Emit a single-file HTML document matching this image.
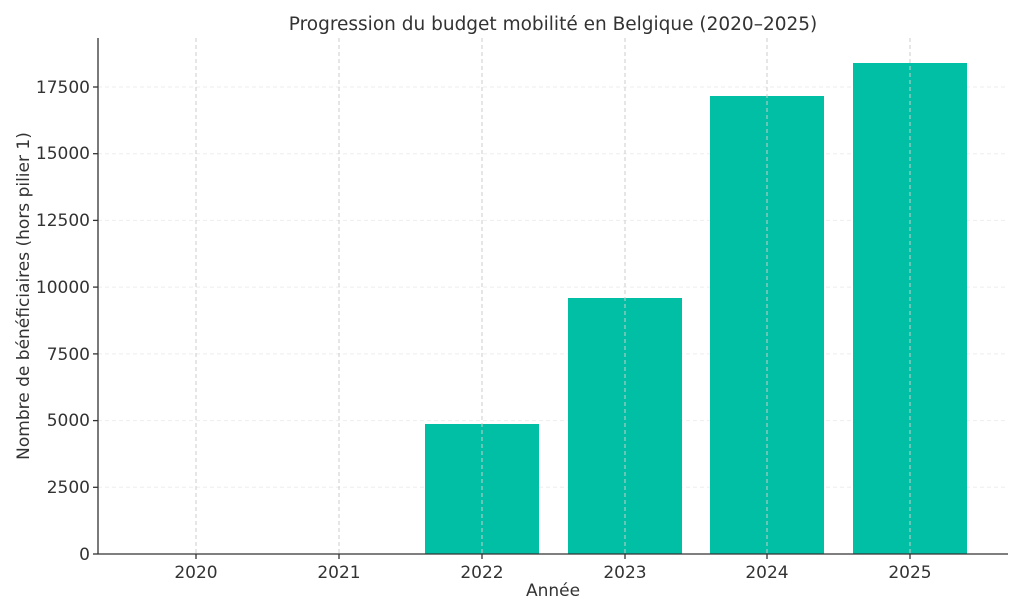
<!DOCTYPE html>
<html><head><meta charset="utf-8"><style>body{margin:0;background:#fff}svg{display:block}</style></head><body>
<svg width="1024" height="614" xmlns="http://www.w3.org/2000/svg" font-family="DejaVu Sans, Liberation Sans, sans-serif" fill="#333">
<rect width="1024" height="614" fill="#fff"/>
<g stroke="#eee" stroke-width="1" stroke-dasharray="4,3">
<line x1="98" x2="1008" y1="487.3" y2="487.3"/>
<line x1="98" x2="1008" y1="420.6" y2="420.6"/>
<line x1="98" x2="1008" y1="353.9" y2="353.9"/>
<line x1="98" x2="1008" y1="287.1" y2="287.1"/>
<line x1="98" x2="1008" y1="220.4" y2="220.4"/>
<line x1="98" x2="1008" y1="153.7" y2="153.7"/>
<line x1="98" x2="1008" y1="87" y2="87"/>
</g>
<g fill="#00bfa5">
<rect x="425" y="424" width="114" height="130"/>
<rect x="568" y="298" width="114" height="256"/>
<rect x="710" y="96" width="114" height="458"/>
<rect x="853" y="63" width="114" height="491"/>
</g>
<g stroke="#ccc" stroke-width="1" stroke-dasharray="4,3">
<line x1="196" x2="196" y1="38" y2="554"/><line x1="339" x2="339" y1="38" y2="554"/>
<line x1="482" x2="482" y1="38" y2="554"/><line x1="625" x2="625" y1="38" y2="554"/>
<line x1="767" x2="767" y1="38" y2="554"/><line x1="910" x2="910" y1="38" y2="554"/>
</g>
<g stroke="#333" stroke-width="1.3">
<line x1="98" x2="98" y1="38" y2="554"/><line x1="98" x2="1008" y1="554" y2="554"/>
<line x1="93" x2="98" y1="554" y2="554"/><line x1="93" x2="98" y1="487.3" y2="487.3"/>
<line x1="93" x2="98" y1="420.6" y2="420.6"/><line x1="93" x2="98" y1="353.9" y2="353.9"/>
<line x1="93" x2="98" y1="287.1" y2="287.1"/><line x1="93" x2="98" y1="220.4" y2="220.4"/>
<line x1="93" x2="98" y1="153.7" y2="153.7"/><line x1="93" x2="98" y1="87" y2="87"/>
<line x1="196" x2="196" y1="554" y2="559"/><line x1="339" x2="339" y1="554" y2="559"/>
<line x1="482" x2="482" y1="554" y2="559"/><line x1="625" x2="625" y1="554" y2="559"/>
<line x1="767" x2="767" y1="554" y2="559"/><line x1="910" x2="910" y1="554" y2="559"/>
</g>
<g font-size="17" text-anchor="end">
<text x="90" y="560">0</text><text x="90" y="493">2500</text><text x="90" y="426">5000</text>
<text x="90" y="360">7500</text><text x="90" y="293">10000</text><text x="90" y="226">12500</text>
<text x="90" y="159">15000</text><text x="90" y="93">17500</text>
</g>
<g font-size="17" text-anchor="middle">
<text x="196" y="578">2020</text><text x="339" y="578">2021</text><text x="482" y="578">2022</text>
<text x="625" y="578">2023</text><text x="767" y="578">2024</text><text x="910" y="578">2025</text>
<text x="553" y="596">Année</text>
<text x="553" y="30" font-size="18.5">Progression du budget mobilité en Belgique (2020–2025)</text>
<text transform="translate(29,296) rotate(-90)">Nombre de bénéficiaires (hors pilier 1)</text>
</g>
</svg>
</body></html>
